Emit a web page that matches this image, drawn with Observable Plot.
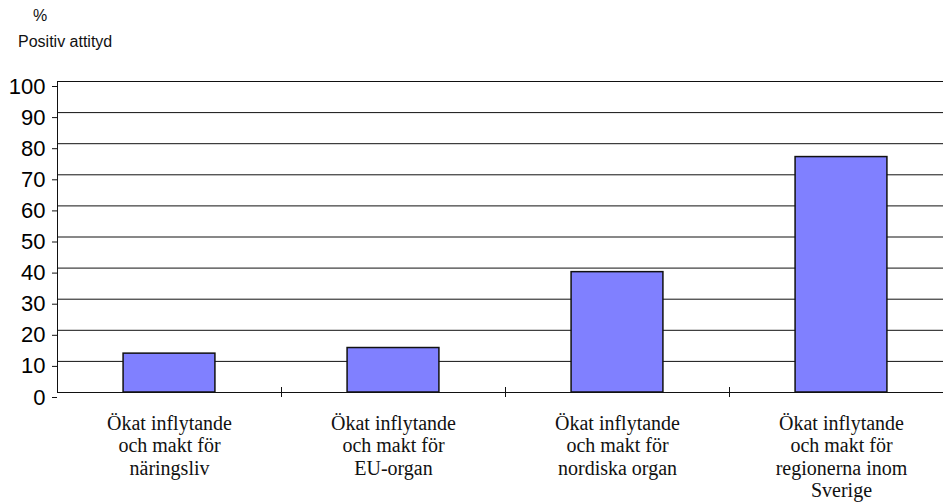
<!DOCTYPE html>
<html>
<head>
<meta charset="utf-8">
<script src="https://cdn.jsdelivr.net/npm/d3@7"></script>
<script src="https://cdn.jsdelivr.net/npm/@observablehq/plot@0.6"></script>
<style>
  html, body { margin: 0; padding: 0; background: #fff; overflow: hidden; }
  #wrap { width: 943px; height: 504px; overflow: hidden; position: relative; }
  #head { position: relative; height: 60px; font-family: "Liberation Sans", Arial, sans-serif; color: #111; }
  #unit { position: absolute; left: 33px; top: 7px; font-size: 16px; }
  #sub { position: absolute; left: 18px; top: 33px; font-size: 16px; }
</style>
</head>
<body>
<div id="wrap">
  <div id="head">
    <div id="unit">%</div>
    <div id="sub">Positiv attityd</div>
  </div>
  <div id="chart"></div>
</div>
<script>
const categories = [
  "Ökat inflytande\noch makt för\nnäringsliv",
  "Ökat inflytande\noch makt för\nEU-organ",
  "Ökat inflytande\noch makt för\nnordiska organ",
  "Ökat inflytande\noch makt för\nregionerna inom\nSverige"
];
const values = [12.5, 14.3, 38.7, 75.7];
const yTicks = [0, 10, 20, 30, 40, 50, 60, 70, 80, 90, 100];

const data = categories.map((c, i) => ({ i, label: c, value: values[i] }));
// category separators sit halfway between neighbouring bars
const boundaries = d3.range(0.5, categories.length - 0.5, 1);
const half = 0.205;

const serif = "'Liberation Serif', 'Times New Roman', serif";
const sans = "'Liberation Sans', Arial, sans-serif";

const chart = Plot.plot({
  width: 960,
  height: 444,
  marginLeft: 57,
  marginRight: 7,
  marginTop: 21,
  marginBottom: 112,
  style: { maxWidth: "none", background: "#fff", overflow: "visible" },
  x: { domain: [-0.5, categories.length - 0.5], axis: null },
  y: { domain: [0, 100], axis: null },
  marks: [
    Plot.ruleY(yTicks.filter(t => t > 0), { stroke: "#111", strokeWidth: 1 }),
    Plot.rectY(data, {
      x1: d => d.i - half,
      x2: d => d.i + half,
      y: "value",
      fill: "#8080ff",
      stroke: "#111",
      strokeWidth: 1.5
    }),
    Plot.ruleY([0], { stroke: "#111", strokeWidth: 1 }),
    Plot.ruleX([-0.5], { y1: 0, y2: 100, stroke: "#111", strokeWidth: 1 }),
    Plot.ruleX(boundaries, { y1: 0, y2: 0, insetTop: -5, insetBottom: -5, stroke: "#111", strokeWidth: 1 }),
    Plot.axisY({
      ticks: yTicks,
      tickSize: 5,
      tickPadding: 7,
      stroke: "#111",
      fontSize: 22,
      fontFamily: sans,
      dy: 5,
      tickFormat: d => String(d),
      label: null
    }),
    Plot.text(data, {
      x: "i",
      y: () => 0,
      text: "label",
      dy: 21,
      lineAnchor: "top",
      lineHeight: 1.13,
      fontSize: 20,
      fontFamily: serif,
      fill: "#111"
    })
  ]
});
document.getElementById("chart").appendChild(chart);
</script>
</body>
</html>
